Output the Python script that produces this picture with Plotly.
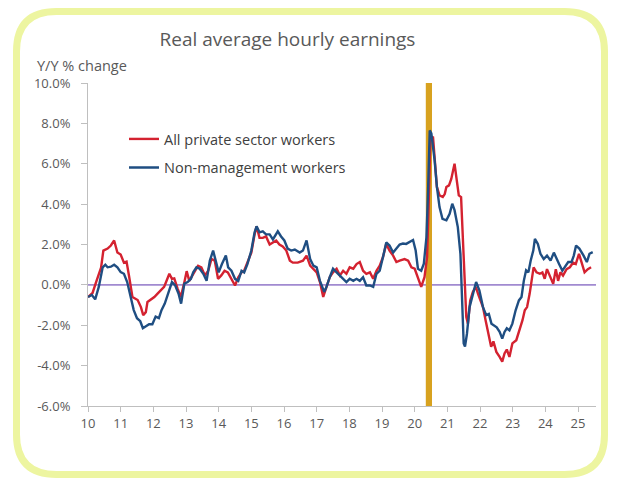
import plotly.graph_objects as go

# ---------------- data ----------------
private_x = [2010.00, 2010.14, 2010.24, 2010.40, 2010.47, 2010.60, 2010.70, 2010.80, 2010.90, 2011.00,
             2011.10, 2011.18, 2011.26, 2011.36, 2011.52, 2011.62, 2011.69, 2011.77, 2011.82, 2011.92,
             2012.03, 2012.13, 2012.23, 2012.33, 2012.39, 2012.49, 2012.57, 2012.64, 2012.74, 2012.84,
             2012.94, 2013.02, 2013.10, 2013.27, 2013.37, 2013.47, 2013.58, 2013.68, 2013.78, 2013.88,
             2013.98, 2014.08, 2014.18, 2014.28, 2014.38, 2014.50, 2014.60, 2014.70, 2014.78, 2014.88,
             2015.00, 2015.10, 2015.16, 2015.20, 2015.25, 2015.35, 2015.45, 2015.56, 2015.66, 2015.76,
             2015.86, 2015.96, 2016.07, 2016.18, 2016.27, 2016.42, 2016.58, 2016.69, 2016.80, 2016.90,
             2017.00, 2017.10, 2017.20, 2017.30, 2017.40, 2017.50, 2017.61, 2017.71, 2017.81, 2017.91,
             2018.01, 2018.12, 2018.22, 2018.32, 2018.42, 2018.52, 2018.63, 2018.73, 2018.83, 2018.93,
             2019.03, 2019.13, 2019.23, 2019.34, 2019.44, 2019.54, 2019.69, 2019.80, 2019.90, 2020.00,
             2020.10, 2020.20, 2020.30, 2020.38, 2020.44, 2020.48, 2020.56, 2020.61, 2020.68, 2020.76,
             2020.86, 2020.92, 2020.97, 2021.05, 2021.12, 2021.22, 2021.29, 2021.35, 2021.42, 2021.47,
             2021.53, 2021.58, 2021.63, 2021.70, 2021.78, 2021.87, 2021.95, 2022.09, 2022.17, 2022.24,
             2022.34, 2022.41, 2022.50, 2022.60, 2022.68, 2022.75, 2022.82, 2022.90, 2022.99, 2023.11,
             2023.21, 2023.30, 2023.37, 2023.44, 2023.52, 2023.57, 2023.64, 2023.73, 2023.83, 2023.91,
             2023.98, 2024.05, 2024.14, 2024.24, 2024.32, 2024.39, 2024.46, 2024.54, 2024.65, 2024.75,
             2024.85, 2024.93, 2025.03, 2025.13, 2025.20, 2025.30, 2025.40]
private_y = [-0.6, -0.4, 0.1, 0.85, 1.7, 1.8, 1.95, 2.2, 1.6, 1.5,
             1.1, 1.15, 0.4, -0.6, -0.75, -1.1, -1.5, -1.35, -0.85, -0.75,
             -0.6, -0.43, -0.27, -0.1, 0.14, 0.55, 0.3, 0.32, -0.17, -0.6,
             0.06, 0.68, 0.2, 0.7, 0.95, 0.87, 0.47, 0.7, 1.28, 1.2,
             0.3, 0.47, 0.7, 0.62, 0.3, -0.03, 0.38, 0.62, 0.7, 1.13,
             1.6, 2.5, 2.9, 2.65, 2.33, 2.33, 2.4, 2.0, 2.1, 2.2,
             2.0, 1.9, 1.7, 1.2, 1.1, 1.1, 1.2, 1.45, 0.95, 0.8,
             0.62, 0.14, -0.6, -0.1, 0.38, 0.62, 0.8, 0.47, 0.7, 0.55,
             0.87, 0.8, 1.03, 1.13, 0.7, 0.55, 0.62, 0.3, 0.7, 0.95,
             1.38, 2.03, 1.7, 1.45, 1.13, 1.2, 1.28, 1.2, 0.87, 0.8,
             0.3, -0.1, 0.38, 1.38, 4.7, 7.2, 7.35, 6.35, 4.85, 4.43,
             4.35, 4.5, 4.85, 4.93, 5.25, 6.0, 5.1, 4.43, 4.35, 2.2,
             -0.27, -1.6, -1.92, -0.77, -0.35, -0.1, -0.5, -1.1, -1.75, -2.25,
             -3.07, -2.8, -3.32, -3.57, -3.8, -3.4, -3.2, -3.57, -2.9, -2.74,
             -2.25, -1.75, -1.26, -1.1, -0.43, 0.2, 0.87, 0.62, 0.55, 0.62,
             0.3, 0.78, 0.46, 0.05, 0.78, 0.2, 0.62, 0.46, 0.78, 0.87,
             1.1, 1.03, 1.54, 0.95, 0.62, 0.78, 0.87]

nonmgmt_x = [2010.00, 2010.12, 2010.22, 2010.33, 2010.45, 2010.53, 2010.60, 2010.70, 2010.80, 2010.90,
             2011.00, 2011.10, 2011.20, 2011.30, 2011.40, 2011.50, 2011.60, 2011.68, 2011.77, 2011.87,
             2011.97, 2012.07, 2012.17, 2012.25, 2012.35, 2012.47, 2012.57, 2012.67, 2012.77, 2012.85,
             2012.95, 2013.05, 2013.15, 2013.22, 2013.32, 2013.42, 2013.53, 2013.63, 2013.73, 2013.83,
             2013.93, 2014.00, 2014.10, 2014.22, 2014.29, 2014.39, 2014.50, 2014.60, 2014.70, 2014.78,
             2014.88, 2015.00, 2015.10, 2015.16, 2015.25, 2015.35, 2015.45, 2015.56, 2015.66, 2015.76,
             2015.81, 2015.91, 2016.01, 2016.11, 2016.22, 2016.33, 2016.48, 2016.58, 2016.69, 2016.80,
             2016.90, 2017.00, 2017.10, 2017.23, 2017.30, 2017.40, 2017.50, 2017.61, 2017.71, 2017.81,
             2017.91, 2018.01, 2018.12, 2018.22, 2018.32, 2018.42, 2018.52, 2018.63, 2018.73, 2018.83,
             2018.93, 2019.03, 2019.13, 2019.23, 2019.34, 2019.44, 2019.54, 2019.64, 2019.74, 2019.95,
             2020.03, 2020.10, 2020.20, 2020.28, 2020.36, 2020.41, 2020.46, 2020.51, 2020.56, 2020.61,
             2020.68, 2020.76, 2020.85, 2020.97, 2021.07, 2021.15, 2021.22, 2021.32, 2021.40, 2021.45,
             2021.50, 2021.54, 2021.60, 2021.68, 2021.78, 2021.88, 2021.98, 2022.09, 2022.19, 2022.27,
             2022.35, 2022.44, 2022.51, 2022.60, 2022.68, 2022.75, 2022.82, 2022.90, 2022.99, 2023.09,
             2023.19, 2023.27, 2023.34, 2023.41, 2023.48, 2023.55, 2023.63, 2023.68, 2023.77, 2023.85,
             2023.95, 2024.05, 2024.16, 2024.26, 2024.34, 2024.42, 2024.52, 2024.59, 2024.70, 2024.80,
             2024.87, 2024.94, 2025.04, 2025.17, 2025.27, 2025.35, 2025.45]
nonmgmt_y = [-0.6, -0.5, -0.72, -0.1, 0.87, 1.0, 0.87, 0.9, 1.0, 0.87,
             0.63, 0.55, 0.14, -0.6, -1.25, -1.65, -1.8, -2.15, -2.05, -1.95,
             -1.95, -1.57, -1.65, -1.25, -0.93, -0.35, 0.14, -0.03, -0.43, -0.93,
             0.06, 0.14, 0.3, 0.62, 0.87, 0.8, 0.55, 0.2, 1.2, 1.7,
             1.03, 0.62, 1.03, 1.45, 0.87, 0.7, 0.3, 0.2, 0.7, 0.62,
             1.03, 1.7, 2.6, 2.9, 2.6, 2.65, 2.5, 2.5, 2.25, 2.5,
             2.65, 2.4, 2.2, 1.8, 1.7, 1.75, 1.6, 1.7, 2.2, 1.28,
             0.95, 0.87, 0.2, -0.35, -0.1, 0.38, 0.8, 0.62, 0.47, 0.3,
             0.14, 0.3, 0.2, 0.3, 0.2, 0.38, -0.03, -0.03, -0.1, 0.55,
             0.7, 1.38, 2.1, 1.95, 1.6, 1.8, 2.0, 2.05, 2.03, 2.22,
             1.7, 0.8, 0.7, 1.05, 2.37, 4.7, 7.65, 7.5, 6.9, 6.17,
             4.85, 3.85, 3.27, 3.2, 3.52, 4.02, 3.7, 2.86, 1.54, -0.6,
             -2.9, -3.05, -2.42, -1.1, -0.5, 0.14, -0.27, -1.1, -1.5, -1.44,
             -1.92, -2.0, -2.1, -2.33, -2.66, -2.33, -2.15, -2.25, -1.92, -1.26,
             -0.77, -0.6, 0.2, 0.72, 0.62, 1.2, 1.7, 2.28, 2.03, 1.54,
             1.28, 1.45, 1.2, 1.6, 1.28, 1.03, 0.7, 0.87, 1.13, 1.13,
             1.45, 1.95, 1.8, 1.45, 1.13, 1.54, 1.62]

series_names = ["All private sector workers", "Non-management workers"]
recession = [2020.34, 2020.53]
x_tickvals = list(range(2010, 2026))
x_ticktext = [str(v - 2000) for v in x_tickvals]
y_tickvals = [10, 8, 6, 4, 2, 0, -2, -4, -6]
y_ticktext = ["10.0%", "8.0%", "6.0%", "4.0%", "2.0%", "0.0%", "-2.0%", "-4.0%", "-6.0%"]

# ---------------- layout geometry ----------------
# The page body has an 8px default margin, so the figure is drawn 8px smaller
# and all target page positions are shifted by OFF.
OFF = 8
W, H = 620 - OFF, 483 - OFF
ML = 88 - OFF
MT = 83 - OFF
PLOT_R = 596 - OFF
PLOT_B = 406 - OFF
MR = W - PLOT_R
MB = H - PLOT_B
PW, PH = W - ML - MR, H - MT - MB


def pp(px, py):
    """page pixel -> paper coordinates"""
    px -= OFF
    py -= OFF
    return (px - ML) / PW, (PLOT_B - py) / PH


def rounded_path(L, T, R, B, r):
    def P(px, py):
        x, y = pp(px, py)
        return f"{x:.5f},{y:.5f}"
    return (f"M{P(L + r, T)} L{P(R - r, T)} Q{P(R, T)} {P(R, T + r)} "
            f"L{P(R, B - r)} Q{P(R, B)} {P(R - r, B)} L{P(L + r, B)} "
            f"Q{P(L, B)} {P(L, B - r)} L{P(L, T + r)} Q{P(L, T)} {P(L + r, T)} Z")


FONT = "Open Sans, Segoe UI, sans-serif"
GREY = "#595959"
RED = "#D42230"
BLUE = "#1F4E82"

fig = go.Figure()
fig.add_trace(go.Scatter(x=private_x, y=private_y, mode="lines", name=series_names[0],
                         line=dict(color=RED, width=2.4), legend="legend", showlegend=True))
fig.add_trace(go.Scatter(x=nonmgmt_x, y=nonmgmt_y, mode="lines", name=series_names[1],
                         line=dict(color=BLUE, width=2.4), legend="legend2", showlegend=True))

fig.add_shape(type="rect", xref="x", yref="y", x0=recession[0], x1=recession[1], y0=-6, y1=10,
              fillcolor="#D8A21F", line=dict(width=0), layer="below")
fig.add_shape(type="line", xref="paper", yref="y", x0=0, x1=1, y0=0, y1=0,
              line=dict(color="#A18AD0", width=1.8), layer="below")
fig.add_shape(type="path", xref="paper", yref="paper",
              path=rounded_path(16.5, 11.5, 604.5, 474.5, 40),
              line=dict(color="#EDF5A0", width=7), fillcolor="rgba(0,0,0,0)", layer="above")

legend_common = dict(font=dict(family=FONT, size=14.5, color="#404040"), bgcolor="rgba(0,0,0,0)",
                     xanchor="left", yanchor="middle", itemwidth=30)
lx, ly1 = pp(124, 139)
_, ly2 = pp(124, 167.5)

fig.update_layout(
    width=W, height=H,
    margin=dict(l=ML, r=MR, t=MT, b=MB, autoexpand=False),
    showlegend=True,
    paper_bgcolor="white", plot_bgcolor="white",
    font=dict(family=FONT, color=GREY),
    title=dict(text="Real average hourly earnings", x=(287.5 - OFF) / W, xanchor="center",
               xref="container", y=1 - (39 - OFF) / H, yanchor="middle", yref="container",
               font=dict(family=FONT, size=19, color=GREY)),
    legend=dict(x=lx, y=ly1, **legend_common),
    legend2=dict(x=lx, y=ly2, **legend_common),
    xaxis=dict(range=[2010, 2025.55], tickvals=x_tickvals, ticktext=x_ticktext,
               showgrid=False, zeroline=False, showline=True, linecolor="#BFBFBF", linewidth=1,
               ticks="outside", ticklen=5, tickcolor="#BFBFBF",
               tickfont=dict(family=FONT, size=13, color=GREY)),
    yaxis=dict(range=[-6, 10], tickvals=y_tickvals, ticktext=y_ticktext,
               showgrid=False, zeroline=False, showline=True, linecolor="#BFBFBF", linewidth=1,
               ticks="outside", ticklen=6, tickcolor="#BFBFBF", ticklabelstandoff=8,
               tickfont=dict(family=FONT, size=13, color=GREY)),
    annotations=[dict(text="Y/Y % change", xref="paper", yref="paper",
                      x=pp(35, 65)[0], y=pp(35, 65)[1], xanchor="left", yanchor="middle",
                      showarrow=False, font=dict(family=FONT, size=14.5, color=GREY))],
)

fig.write_html("out.html")
